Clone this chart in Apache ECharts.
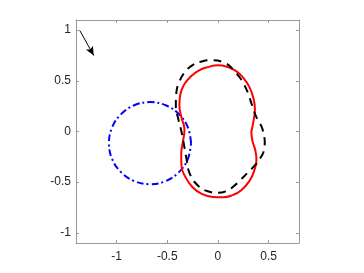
<!DOCTYPE html>
<html>
<head>
<meta charset="utf-8">
<script src="https://cdn.jsdelivr.net/npm/echarts@6/dist/echarts.min.js"></script>
<style>
  html, body { margin: 0; padding: 0; background: #fff; }
  #chart { width: 364px; height: 273px; }
</style>
</head>
<body>
<div id="chart"></div>
<script>
var xTicks = [-1, -0.5, 0, 0.5];
var yTicks = [-1, -0.5, 0, 0.5, 1];

// dash-dot circle
var bluePts = [
  [-0.265, -0.115], [-0.296, 0.04], [-0.384, 0.171], [-0.515, 0.259],
  [-0.67, 0.29], [-0.825, 0.259], [-0.956, 0.171], [-1.044, 0.04],
  [-1.075, -0.115], [-1.044, -0.27], [-0.956, -0.401], [-0.825, -0.489],
  [-0.67, -0.52], [-0.515, -0.489], [-0.384, -0.401], [-0.296, -0.27],
  [-0.265, -0.115]
];

// solid red peanut
var redPts = [
  [0.33, 0.0], [0.354, 0.12], [0.365, 0.22], [0.35, 0.33], [0.31, 0.44],
  [0.25, 0.53], [0.18, 0.595], [0.1, 0.635], [0.0, 0.653], [-0.1, 0.635],
  [-0.19, 0.6], [-0.27, 0.54], [-0.335, 0.46], [-0.372, 0.36], [-0.38, 0.26],
  [-0.36, 0.14], [-0.33, 0.02], [-0.345, -0.1], [-0.362, -0.22], [-0.36, -0.33],
  [-0.32, -0.45], [-0.25, -0.55], [-0.16, -0.615], [-0.05, -0.645], [0.05, -0.648],
  [0.15, -0.625], [0.23, -0.58], [0.31, -0.49], [0.36, -0.38], [0.38, -0.28],
  [0.37, -0.19], [0.34, -0.09], [0.33, 0.0]
];

// dashed black outline
var blackPts = [
  [0.445, 0.0], [0.43, 0.05], [0.39, 0.12], [0.36, 0.19], [0.33, 0.28],
  [0.3, 0.37], [0.26, 0.46], [0.21, 0.54], [0.15, 0.61], [0.08, 0.67],
  [-0.06, 0.703], [-0.16, 0.69], [-0.25, 0.655], [-0.33, 0.58], [-0.385, 0.48],
  [-0.41, 0.38], [-0.415, 0.25], [-0.39, 0.12], [-0.36, 0.0], [-0.335, -0.13],
  [-0.31, -0.27], [-0.28, -0.41], [-0.21, -0.52], [-0.1, -0.59], [0.0, -0.605],
  [0.08, -0.59], [0.15, -0.545], [0.22, -0.48], [0.29, -0.41], [0.36, -0.34],
  [0.42, -0.26], [0.455, -0.18], [0.462, -0.1], [0.445, 0.0]
];

var arrowStart = [-1.363, 0.997];
var arrowEnd = [-1.225, 0.75];

var myChart = echarts.init(document.getElementById('chart'), null, { renderer: 'canvas' });

var axisCol = '#9a9a9a';
var labelStyle = { color: '#262626', fontSize: 12, fontFamily: 'Liberation Sans, Arial, sans-serif' };

function xAxis(pos, showLabel) {
  return {
    type: 'value', position: pos, min: -1.4, max: 0.8,
    axisLine: { show: true, onZero: false, lineStyle: { color: axisCol, width: 1 } },
    axisTick: { show: true, inside: true, length: 3, customValues: xTicks, lineStyle: { color: axisCol } },
    axisLabel: Object.assign({ show: showLabel, margin: 8, customValues: xTicks }, labelStyle),
    splitLine: { show: false }
  };
}
function yAxis(pos, showLabel) {
  return {
    type: 'value', position: pos, min: -1.1, max: 1.1,
    axisLine: { show: true, onZero: false, lineStyle: { color: axisCol, width: 1 } },
    axisTick: { show: true, inside: true, length: 3, customValues: yTicks, lineStyle: { color: axisCol } },
    axisLabel: Object.assign({ show: showLabel, margin: 5, customValues: yTicks }, labelStyle),
    splitLine: { show: false }
  };
}

option = {
  backgroundColor: '#ffffff',
  animation: false,
  grid: { left: 76, top: 20, right: 65, bottom: 30 },
  xAxis: [xAxis('bottom', true), xAxis('top', false)],
  yAxis: [yAxis('left', true), yAxis('right', false)],
  series: [
    {
      name: 'circle', type: 'line', data: bluePts, smooth: 0.4,
      showSymbol: false, silent: true,
      lineStyle: { color: '#0000ff', width: 2, type: [7, 3, 2, 3] }
    },
    {
      name: 'red', type: 'line', data: redPts, smooth: 0.5,
      showSymbol: false, silent: true,
      lineStyle: { color: '#ff0000', width: 2 }
    },
    {
      name: 'black', type: 'line', data: blackPts, smooth: 0.5,
      showSymbol: false, silent: true,
      lineStyle: { color: '#000000', width: 2, type: [8, 6] }
    },
    {
      name: 'arrow', type: 'line', data: [], silent: true,
      markLine: {
        silent: true, symbol: ['none', 'arrow'], symbolSize: [6, 9],
        label: { show: false },
        lineStyle: { color: '#000', width: 1, type: 'solid' },
        data: [[{ coord: arrowStart }, { coord: arrowEnd }]]
      }
    }
  ]
};
myChart.setOption(option);
</script>
</body>
</html>
